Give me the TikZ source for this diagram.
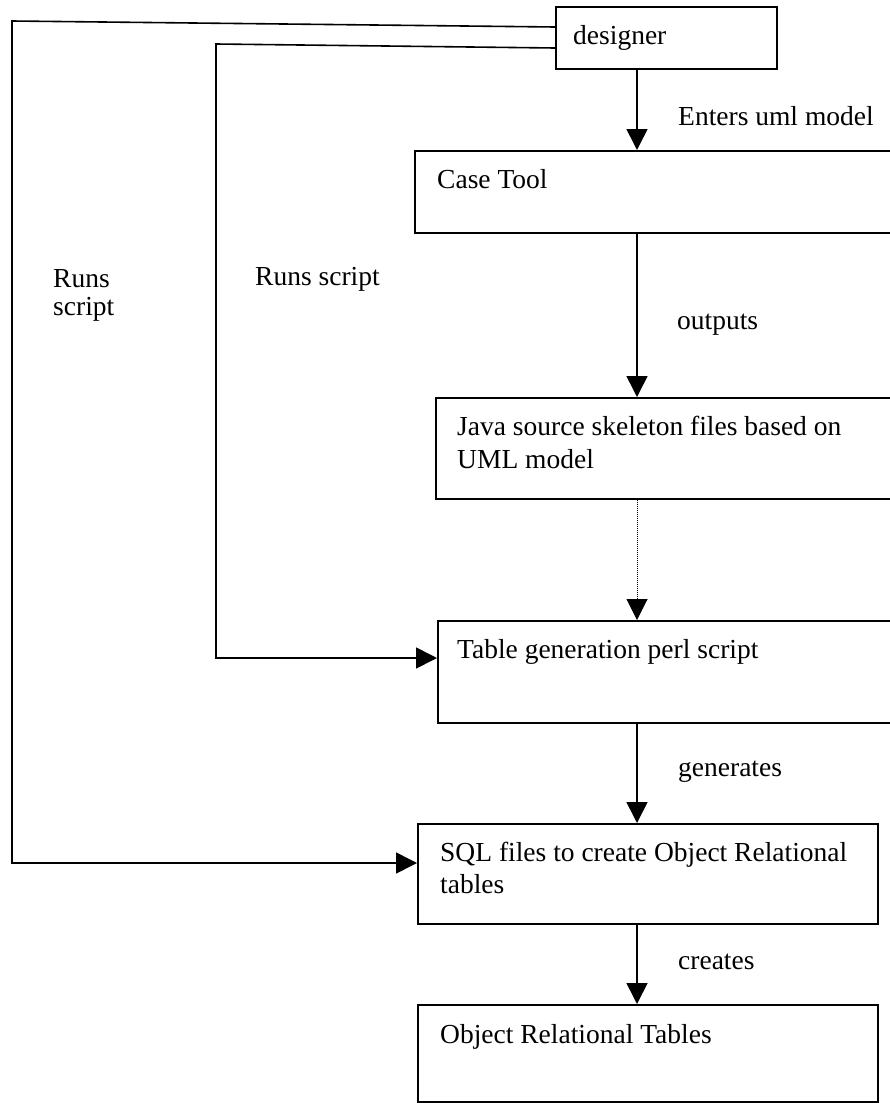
\documentclass[tikz,border=0pt]{standalone}
\usepackage{fontspec}
\setmainfont{Liberation Serif}
\usetikzlibrary{arrows.meta}
\tikzset{
  box/.style={draw, line width=1.6pt, rectangle, inner sep=0pt, anchor=north west},
  txt/.style={anchor=base west, inner sep=0pt, font=\fontsize{27.5}{33}\selectfont},
  conn/.style={line width=1.6pt, -{Triangle[length=21pt,width=21pt]}},
  dotconn/.style={line width=1pt, densely dotted, -{Triangle[length=21pt,width=21pt]}},
}
\begin{document}
\begin{tikzpicture}[x=1pt,y=-1pt]
\useasboundingbox (0,0) rectangle (890,1103);
\fill[white] (0,0) rectangle (890,1103);
\clip (0,0) rectangle (890,1103);

% boxes
\node[box, minimum width=221pt, minimum height=62pt] (des) at (555,6) {};
\node[box, minimum width=486pt, minimum height=82pt] (case) at (414,150) {};
\node[box, minimum width=465pt, minimum height=101pt] (java) at (435,397) {};
\node[box, minimum width=463pt, minimum height=102pt] (table) at (437,620) {};
\node[box, minimum width=460pt, minimum height=100pt] (sql) at (417,823) {};
\node[box, minimum width=460pt, minimum height=97pt] (ort) at (417,1004) {};

% box texts
\node[txt] (tdes) at (573,44) {designer};
\node[txt] (tcase) at (437,188) {Case Tool};
\node[txt] (tjava1) at (457,435) {Java source skeleton files based on};
\node[txt] (tjava2) at (457,468) {UML model};
\node[txt] (ttable) at (457,658) {Table generation perl script};
\node[txt] (tsql1) at (440,861) {SQL files to create Object Relational};
\node[txt] (tsql2) at (440,893) {tables};
\node[txt] (tort) at (440,1043) {Object Relational Tables};

% labels
\node[txt] (lenter) at (678,125) {Enters uml model};
\node[txt] (loutputs) at (677,329) {outputs};
\node[txt] (lgen) at (678,776) {generates};
\node[txt] (lcreates) at (678,969) {creates};
\node[txt] (lruns1) at (53,287) {Runs};
\node[txt] (lruns2) at (53,315) {script};
\node[txt] (lruns3) at (255,285) {Runs script};

% vertical connectors
\coordinate (axis) at (637,0);
\draw[conn] (des.south -| axis) -- (case.north -| axis);
\draw[conn] (case.south -| axis) -- (java.north -| axis);
\draw[dotconn] (java.south -| axis) -- (table.north -| axis);
\draw[conn] (table.south -| axis) -- (sql.north -| axis);
\draw[conn] (sql.south -| axis) -- (ort.north -| axis);

% side connectors
\coordinate (oTop) at (12,21);
\coordinate (oBot) at (12,863);
\coordinate (iTop) at (216,44);
\coordinate (iBot) at (216,658);
\draw[conn] ([yshift=-21pt]des.north west) -- (oTop) -- (oBot) -- (oBot -| sql.west);
\draw[conn] ([yshift=-42pt]des.north west) -- (iTop) -- (iBot) -- (iBot -| table.west);
\end{tikzpicture}
\end{document}
